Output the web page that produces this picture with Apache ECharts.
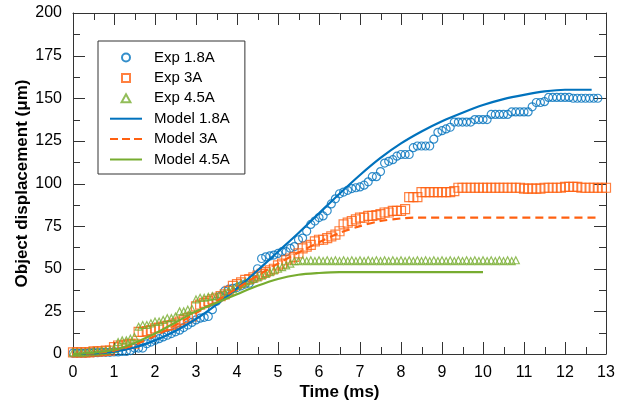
<!DOCTYPE html>
<html>
<head>
<meta charset="utf-8">
<script src="https://cdn.jsdelivr.net/npm/echarts@6/dist/echarts.min.js"></script>
<style>html,body{margin:0;padding:0;background:#fff}#c{width:623px;height:402px}</style>
</head>
<body>
<div id="c"></div>
<script>
// ---- data ----
const expTime = [
0,0.1,0.2,0.3,0.4,0.5,0.6,0.7,0.8,0.9,
1,1.1,1.2,1.3,1.4,1.5,1.6,1.7,1.8,1.9,
2,2.1,2.2,2.3,2.4,2.5,2.6,2.7,2.8,2.9,
3,3.1,3.2,3.3,3.4,3.5,3.6,3.7,3.8,3.9,
4,4.1,4.2,4.3,4.4,4.5,4.6,4.7,4.8,4.9,
5,5.1,5.2,5.3,5.4,5.5,5.6,5.7,5.8,5.9,
6,6.1,6.2,6.3,6.4,6.5,6.6,6.7,6.8,6.9,
7,7.1,7.2,7.3,7.4,7.5,7.6,7.7,7.8,7.9,
8,8.1,8.2,8.3,8.4,8.5,8.6,8.7,8.8,8.9,
9,9.1,9.2,9.3,9.4,9.5,9.6,9.7,9.8,9.9,
10,10.1,10.2,10.3,10.4,10.5,10.6,10.7,10.8,10.9,
11,11.1,11.2,11.3,11.4,11.5,11.6,11.7,11.8,11.9,
12,12.1,12.2,12.3,12.4,12.5,12.6,12.7,12.8,12.9,
13];
const exp18 = [
0.5,0.5,0.5,0.5,0.8,0.8,0.8,1,1,1,
1.2,1.2,1.5,1.5,2,3.5,3.5,3.5,6,7,
8,9,10,11,12,13,14,15.5,17,18.5,
20,21,21.5,22,26,31,34,37,38,38.5,
39,40,41,41.5,44,50,56,57,57.5,58,
59,60,60,62,63,67,68,72,76,78,
80,81,84,88,91,94,95,96,97,97.5,
98,99,101,104,104,107,112,113,114,116,
117,117,117,121,122,122,122,122,126,130,
131,132,133,136,136,136,136,136,137.5,137.5,
137.5,137.5,140.5,140.5,140.5,140.5,140.5,142,142,142,
142,142,145,147.5,147.5,148,150.5,150.5,150.5,150.5,
150.5,150.5,150,150,150,150,150,150,150];
const exp3 = [
1,1,1,1,1,1.5,1.5,1.5,2,2,
4,5,5,5.5,6,6,13,13,13.5,14,
15,15.5,16,16.5,17,18,19,20,21,22,
28,29,30,31,32,33,34,35,37,40,
41,42,43.5,44,45,46,47,48,49,50,
52,53,55,56,57,59,62,63,64,66,
67,67,68,69,70,72,76,77,78,79,
80,80,81,81,81.5,82,83,83,84,84,
84,85,92,92,92,95,95,95,95,95,
95,95,95,95.5,97.5,97.5,97.5,97.5,97.5,97.5,
97.5,97.5,97.5,97.5,97.5,97.5,97.5,97.5,97.5,97.5,
97,97,97,97,97,97.5,97.5,97.5,97.5,97.5,
98,98,98,98,97.5,97.5,97.5,97.5,97.5,97.5,
97.5];
const exp45 = [
1,1,1,1,1.5,1.5,1.5,2,2,2.5,
3,7,8,8,9,10,16,17,17,18,
19,19,20,21,21,22,25,25,26,26.5,
32,33,33,33.5,34,34,35,36,37,38,
40,41,42,43,44,45,46,47,48,49,
50,51,52,53,54.5,
54.5,55,54.5,55,54.5,55,54.5,55,54.5,55,
54.5,55,54.5,55,54.5,55,54.5,55,54.5,55,
54.5,55,54.5,55,54.5,55,54.5,55,54.5,55,
54.5,55,54.5,55,54.5,55,54.5,55,54.5,55,
54.5,55,54.5,55,54.5,55,54.5,55,54.5,55,
54.5,55,54.5,55];
const modelTime18 = [0,0.5,1,1.5,2,2.5,3,3.5,4,4.5,5,5.5,6,6.5,7,7.5,8,8.5,9,9.5,10,10.5,11,11.5,12,12.65];
const model18     = [0,0.3,1.3,3.8,8,13.5,20.5,29,38.5,49,60,71,82.5,94,105,115,123.5,130.5,136.5,141.5,146,149.5,152,154,155,155];
const modelTime3  = [0,0.5,1,1.5,2,2.5,3,3.5,4,4.5,5,5.5,6,6.5,7,7.5,8,8.3,12.8];
const model3      = [0,0.5,2,5.5,10.5,17,24,31,38.5,46,53,59.5,65.5,71,75,78,79.5,80,80];
const modelTime45 = [0,0.5,1,1.5,2,2.5,3,3.5,4,4.5,5,5.5,6,6.5,10];
const model45     = [0,0.8,2.5,6.5,12,18.5,25,30,35,40,44,46.5,47.5,48,48];
// tick values
const xMajorTicks = [0,1,2,3,4,5,6,7,8,9,10,11,12,13];
const xMinorTicks = [0.5,1.5,2.5,3.5,4.5,5.5,6.5,7.5,8.5,9.5,10.5,11.5,12.5];
const yMajorTicks = [0,25,50,75,100,125,150,175,200];
const yMinorTicks = [12.5,37.5,62.5,87.5,112.5,137.5,162.5,187.5];
const xRange = {min:0, max:13, interval:1};
const yRange = {min:0, max:200, interval:25};

const BLUE = '#0072BD', ORANGE = '#FF6010', GREEN = '#77AC30';
const AXIS = '#333';
const FONT = 'Liberation Sans, Arial, sans-serif';
const MAJOR_LEN = 12, MINOR_LEN = 7;
const zip = (t, v) => v.map((y, i) => [t[i], y]);

const axisCommon = (pos, showLabel) => ({
  position: pos,
  type: 'value',
  axisLine: {show: true, onZero: false, lineStyle: {color: AXIS, width: 1}},
  axisTick: {show: false},
  minorTick: {show: false},
  splitLine: {show: false},
  minorSplitLine: {show: false},
  axisLabel: {show: showLabel, color: '#000', fontSize: 16, fontFamily: FONT, margin: 11}
});

// inward tick marks on all four sides, positioned through the axis scales
const tickData = [].concat(
  xMajorTicks.map(v => [v, 0, 0, MAJOR_LEN]),
  xMinorTicks.map(v => [v, 0, 0, MINOR_LEN]),
  yMajorTicks.map(v => [0, v, 1, MAJOR_LEN]),
  yMinorTicks.map(v => [0, v, 1, MINOR_LEN])
);
function renderTick(params, api) {
  const isY = api.value(2) === 1;
  const len = api.value(3);
  const st = {stroke: AXIS, lineWidth: 1};
  if (!isY) {
    const v = api.value(0);
    const b = api.coord([v, yRange.min]);
    const t = api.coord([v, yRange.max]);
    const x = Math.round(b[0]) + 0.5;
    return {type: 'group', children: [
      {type: 'line', shape: {x1: x, y1: b[1], x2: x, y2: b[1] - len}, style: st},
      {type: 'line', shape: {x1: x, y1: t[1], x2: x, y2: t[1] + len}, style: st}
    ]};
  } else {
    const v = api.value(1);
    const l = api.coord([xRange.min, v]);
    const r = api.coord([xRange.max, v]);
    const y = Math.round(l[1]) + 0.5;
    return {type: 'group', children: [
      {type: 'line', shape: {x1: l[0], y1: y, x2: l[0] + len, y2: y}, style: st},
      {type: 'line', shape: {x1: r[0], y1: y, x2: r[0] - len, y2: y}, style: st}
    ]};
  }
}

const option = {
  animation: false,
  grid: {left: 73, right: 17, top: 13, bottom: 48, containLabel: false, outerBoundsMode: 'none'},
  legend: {
    orient: 'vertical', left: 98, top: 41,
    padding: [9, 15, 7, 12],
    itemWidth: 32, itemHeight: 8, itemGap: 5.4,
    textStyle: {fontSize: 15, color: '#000', fontFamily: FONT, lineHeight: 14, padding: [0, 0, 0, 7]},
    borderColor: AXIS, borderWidth: 1, backgroundColor: '#fff',
    data: [
      {name: 'Exp 1.8A', icon: 'circle'},
      {name: 'Exp 3A', icon: 'path://M0,0h10v10h-10z'},
      {name: 'Exp 4.5A', icon: 'path://M5,0L10,9H0z'},
      {name: 'Model 1.8A', icon: 'path://M0,0h32v2h-32z'},
      {name: 'Model 3A', icon: 'path://M0,0h8v2h-8z M12,0h8v2h-8z M24,0h8v2h-8z'},
      {name: 'Model 4.5A', icon: 'path://M0,0h32v2h-32z'}
    ]
  },
  xAxis: [
    Object.assign(axisCommon('bottom', true), xRange, {
      name: 'Time (ms)', nameLocation: 'middle', nameGap: 30, nameMoveOverlap: false,
      nameTextStyle: {fontSize: 17, fontWeight: 'bold', color: '#000', fontFamily: FONT}
    }),
    Object.assign(axisCommon('top', false), xRange)
  ],
  yAxis: [
    Object.assign(axisCommon('left', true), yRange, {
      name: 'Object displacement (μm)', nameLocation: 'middle', nameRotate: 90, nameGap: 42, nameMoveOverlap: false,
      nameTextStyle: {fontSize: 17, fontWeight: 'bold', color: '#000', fontFamily: FONT}
    }),
    Object.assign(axisCommon('right', false), yRange)
  ],
  series: [
    {type: 'custom', name: 'ticks', renderItem: renderTick, data: tickData,
     clip: false, silent: true, z: 1, encode: {x: 0, y: 1}},
    {name: 'Exp 1.8A', type: 'scatter', symbol: 'circle', symbolSize: 8,
     itemStyle: {color: 'rgba(255,255,255,0)', borderColor: BLUE, borderWidth: 1.2},
     data: zip(expTime, exp18)},
    {name: 'Exp 3A', type: 'scatter', symbol: 'rect', symbolSize: 9,
     itemStyle: {color: 'rgba(255,255,255,0)', borderColor: ORANGE, borderWidth: 1.2},
     data: zip(expTime, exp3)},
    {name: 'Exp 4.5A', type: 'scatter', symbol: 'triangle', symbolSize: 7,
     itemStyle: {color: 'rgba(255,255,255,0)', borderColor: GREEN, borderWidth: 1.2},
     data: zip(expTime, exp45)},
    {name: 'Model 1.8A', type: 'line', symbol: 'none', smooth: 0.3,
     lineStyle: {color: BLUE, width: 2.2}, itemStyle: {color: BLUE},
     data: zip(modelTime18, model18)},
    {name: 'Model 3A', type: 'line', symbol: 'none', smooth: 0.3,
     lineStyle: {color: ORANGE, width: 2.2, type: [8, 5]}, itemStyle: {color: ORANGE},
     data: zip(modelTime3, model3)},
    {name: 'Model 4.5A', type: 'line', symbol: 'none', smooth: 0.3,
     lineStyle: {color: GREEN, width: 2.2}, itemStyle: {color: GREEN},
     data: zip(modelTime45, model45)}
  ]
};

const chart = echarts.init(document.getElementById('c'), null, {renderer: 'canvas'});
chart.setOption(option);
</script>
</body>
</html>
